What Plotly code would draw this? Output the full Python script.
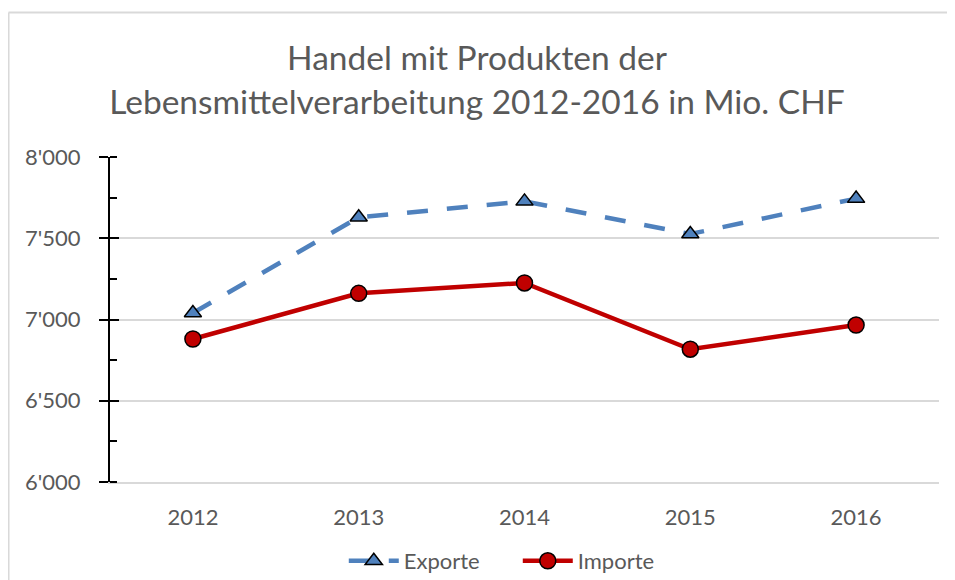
import plotly.graph_objects as go

years = ["2012", "2013", "2014", "2015", "2016"]
exporte = [7040, 7629, 7727, 7526, 7744]
importe = [6880, 7161, 7225, 6817, 6966]
y_ticks = [6000, 6500, 7000, 7500, 8000]

FONT = "Lato"
TXT = "#595959"
GRID = "#D9D9D9"

fig = go.Figure()
fig.add_trace(go.Scatter(
    x=years, y=exporte, name="Exporte", mode="lines+markers",
    line=dict(color="#4F81BD", width=4.5, dash="21px,19px"),
    marker=dict(symbol="triangle-up", size=15, color="#4F81BD",
                line=dict(color="black", width=1.5)),
))
fig.add_trace(go.Scatter(
    x=years, y=importe, name="Importe", mode="lines+markers",
    line=dict(color="#C00000", width=4.5),
    marker=dict(symbol="circle", size=16, color="#C00000",
                line=dict(color="black", width=1.5)),
))
# helper trace so the overlay axis (for crossing tick marks) is drawn
fig.add_trace(go.Scatter(
    x=years, y=importe, yaxis="y2", mode="lines", showlegend=False,
    hoverinfo="skip", line=dict(width=0), opacity=0,
))

W, H = 939, 572
fig.update_layout(
    width=W, height=H,
    margin=dict(l=102, r=8, t=149, b=98, autoexpand=False),
    paper_bgcolor="white", plot_bgcolor="white",
    separators=".'",
    font=dict(family=FONT, color=TXT, size=22),
    title=dict(
        text="Handel mit Produkten der<br>Lebensmittelverarbeitung 2012-2016 in Mio. CHF",
        x=(477 - 8) / W, xanchor="center", xref="container",
        y=1 - 62 / H, yanchor="top", yref="container",
        font=dict(family=FONT, size=33.5, color=TXT),
    ),
    xaxis=dict(
        type="category", range=[-0.5, 4.5],
        showline=True, linecolor=GRID, linewidth=1.5,
        ticks="", showgrid=False, tickfont=dict(size=22, color=TXT),
        ticklabelstandoff=15,
    ),
    yaxis=dict(
        range=[6000, 8000], tickvals=y_ticks, tickformat=",",
        showline=True, linecolor="black", linewidth=2,
        ticks="outside", ticklen=9, tickwidth=2, tickcolor="black",
        showgrid=True, gridcolor=GRID, gridwidth=1.5,
        zeroline=False, tickfont=dict(size=22, color=TXT),
        ticklabelstandoff=14,
        minor=dict(dtick=250, ticks="inside", ticklen=7, tickwidth=2,
                   tickcolor="black", showgrid=False),
    ),
    yaxis2=dict(
        overlaying="y", side="left", range=[6000, 8000], tickvals=y_ticks,
        showticklabels=False, showgrid=False, showline=False, zeroline=False,
        ticks="inside", ticklen=9, tickwidth=2, tickcolor="black",
    ),
    legend=dict(
        orientation="h", x=0.282, xanchor="left", y=-0.243, yanchor="middle",
        font=dict(size=22, color=TXT), bgcolor="rgba(0,0,0,0)",
        itemwidth=50, entrywidth=109,
    ),
    showlegend=True,
    shapes=[
        # outer chart frame: only its left and top edges are in view
        dict(type="line", xref="paper", yref="paper",
             x0=-0.1224, x1=-0.1224, y0=-0.4, y1=1.4446,
             line=dict(color=GRID, width=2), layer="below"),
        dict(type="line", xref="paper", yref="paper",
             x0=-0.1224, x1=1.1, y0=1.4446, y1=1.4446,
             line=dict(color=GRID, width=2), layer="below"),
    ],
)

fig.write_html("out.html")
